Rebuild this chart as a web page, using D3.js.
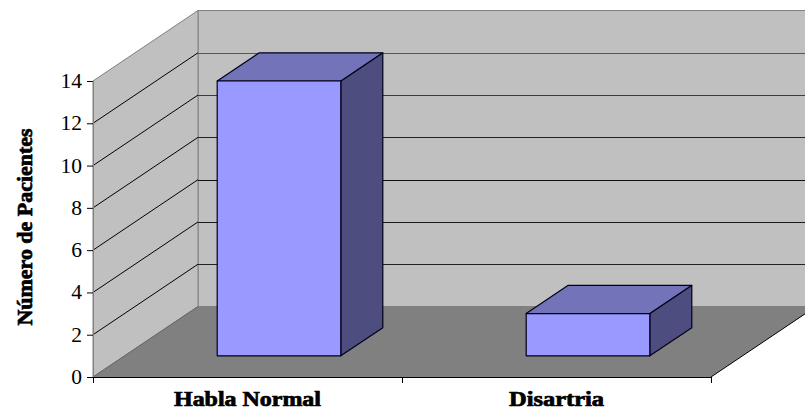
<!DOCTYPE html>
<html>
<head>
<meta charset="utf-8">
<script src="https://cdn.jsdelivr.net/npm/d3@7/dist/d3.min.js"></script>
<style>
html,body{margin:0;padding:0;background:#fff;overflow:hidden}
svg{display:block}
text{font-family:"Liberation Serif",serif;fill:#000}
.bold{font-weight:bold;stroke:#000;stroke-width:.7px}
</style>
</head>
<body>
<svg id="c" width="805" height="410"></svg>
<script>
const categories = ["Habla Normal", "Disartria"];
const pacientes = [13, 2];
const yTicks = [0, 2, 4, 6, 8, 10, 12, 14];
const yTitle = "Número de Pacientes";

const svg = d3.select("#c");
const y = d3.scaleLinear().domain([0, 14]).range([377, 81]);
const x = d3.scaleBand().domain(categories).range([93, 711]).paddingInner(0).paddingOuter(0);
// depth (0 = front of the floor, 1 = back wall)
const dx = d3.scaleLinear().domain([0, 1]).range([0, 105]);
const dy = d3.scaleLinear().domain([0, 1]).range([0, -70.5]);
const P = (px, v, d) => [px + dx(d), y(v) + dy(d)];
const poly = pts => pts.map(p => p.join(",")).join(" ");

const x0 = x.range()[0], x1 = x.range()[1];
const yMax = y.domain()[1];

// back wall
svg.append("polygon").attr("points", poly([P(x0,0,1),P(x0,yMax,1),P(x1,yMax,1),P(x1,0,1)]))
  .attr("fill", "#c0c0c0").attr("stroke", "#808080").attr("stroke-width", 1);
// side wall
svg.append("polygon").attr("points", poly([P(x0,0,0),P(x0,yMax,0),P(x0,yMax,1),P(x0,0,1)]))
  .attr("fill", "#c0c0c0").attr("stroke", "#808080").attr("stroke-width", 1);
// floor
svg.append("polygon").attr("points", poly([P(x0,0,0),P(x1,0,0),P(x1,0,1),P(x0,0,1)]))
  .attr("fill", "#808080");
svg.append("line").attr("x1", P(x0,0,0)[0]).attr("y1", P(x0,0,0)[1]).attr("x2", P(x0,0,1)[0]).attr("y2", P(x0,0,1)[1])
  .attr("stroke", "#666").attr("stroke-width", 1);
svg.append("line").attr("x1", P(x1,0,0)[0]).attr("y1", P(x1,0,0)[1]).attr("x2", P(x1,0,1)[0]).attr("y2", P(x1,0,1)[1])
  .attr("stroke", "#000").attr("stroke-width", 1);

// gridlines
const grid = yTicks.filter(t => t > 0 && t < yMax);
const gridColor = d3.scaleLinear().domain([2, 6, 8, 12]).range(["#222", "#111", "#222", "#555"]);
svg.selectAll(".gs").data(grid).join("polyline")
  .attr("fill", "none").attr("stroke", "#000").attr("stroke-width", 1)
  .attr("points", t => poly([P(x0,t,0), P(x0,t,1)]));
svg.selectAll(".gb").data(grid).join("line")
  .attr("x1", t => P(x0,t,1)[0]).attr("x2", t => P(x1,t,1)[0])
  .attr("y1", t => Math.round(P(x0,t,1)[1]) + .5).attr("y2", t => Math.round(P(x0,t,1)[1]) + .5)
  .attr("stroke", t => gridColor(t)).attr("stroke-width", 1);

// bars
const barFrac = 0.4, barD0 = 0.3, barD1 = 0.7;
const barW = x.bandwidth() * barFrac;
const bars = svg.selectAll(".bar").data(categories.map((c, i) => ({c, v: pacientes[i]}))).join("g");
const bl = d => x(d.c) + (x.bandwidth() - barW) / 2;
const edge = {stroke: "#00001a", "stroke-width": 1.2, "stroke-linejoin": "round"};
function face(fill, pts) {
  const s = bars.append("polygon").attr("fill", fill).attr("points", d => poly(pts(d)));
  Object.entries(edge).forEach(([k, v]) => s.attr(k, v));
}
face("#4d4d80", d => [P(bl(d)+barW,0,barD0),P(bl(d)+barW,d.v,barD0),P(bl(d)+barW,d.v,barD1),P(bl(d)+barW,0,barD1)]);
face("#7373b9", d => [P(bl(d),d.v,barD0),P(bl(d)+barW,d.v,barD0),P(bl(d)+barW,d.v,barD1),P(bl(d),d.v,barD1)]);
face("#9999ff", d => [P(bl(d),0,barD0),P(bl(d)+barW,0,barD0),P(bl(d)+barW,d.v,barD0),P(bl(d),d.v,barD0)]);

// y axis
const yAxis = d3.axisLeft(y).tickValues(yTicks).tickSize(6).tickPadding(5).tickSizeOuter(0);
const gy = svg.append("g").attr("transform", `translate(${x0},0)`).call(yAxis);
gy.select(".domain").attr("stroke", "#808080");
gy.selectAll("line").attr("stroke", "#000");
gy.selectAll("text").style("font-family", '"Liberation Serif",serif').style("font-size", "21.5px")
  .attr("fill", "#000").attr("dy", "0.3em");

// x axis
const xAxis = d3.axisBottom(x).tickSize(0).tickPadding(12);
const gx = svg.append("g").attr("transform", `translate(0,${y(0)})`).call(xAxis);
gx.select(".domain").remove();
svg.append("line").attr("x1", x0).attr("x2", x1).attr("y1", y(0)+.5).attr("y2", y(0)+.5).attr("stroke", "#000");
const boundaries = [x0, x(categories[1]), x1];
svg.selectAll(".xt").data(boundaries).join("line")
  .attr("x1", d => d+.5).attr("x2", d => d+.5).attr("y1", y(0)).attr("y2", y(0)+6).attr("stroke", "#000");
const labelWidths = [147, 95];
gx.selectAll("text").attr("class", "bold").style("font-family", '"Liberation Serif",serif')
  .style("font-size", "20px").attr("fill", "#000").attr("dy", 0).attr("y", 28.5)
  .attr("textLength", (d, i) => labelWidths[i]).attr("lengthAdjust", "spacingAndGlyphs");

// y title
svg.append("text").attr("class", "bold")
  .attr("transform", "translate(32,227) rotate(-90)")
  .attr("text-anchor", "middle").style("font-size", "21px")
  .attr("textLength", 197).attr("lengthAdjust", "spacingAndGlyphs").text(yTitle);
</script>
</body>
</html>
